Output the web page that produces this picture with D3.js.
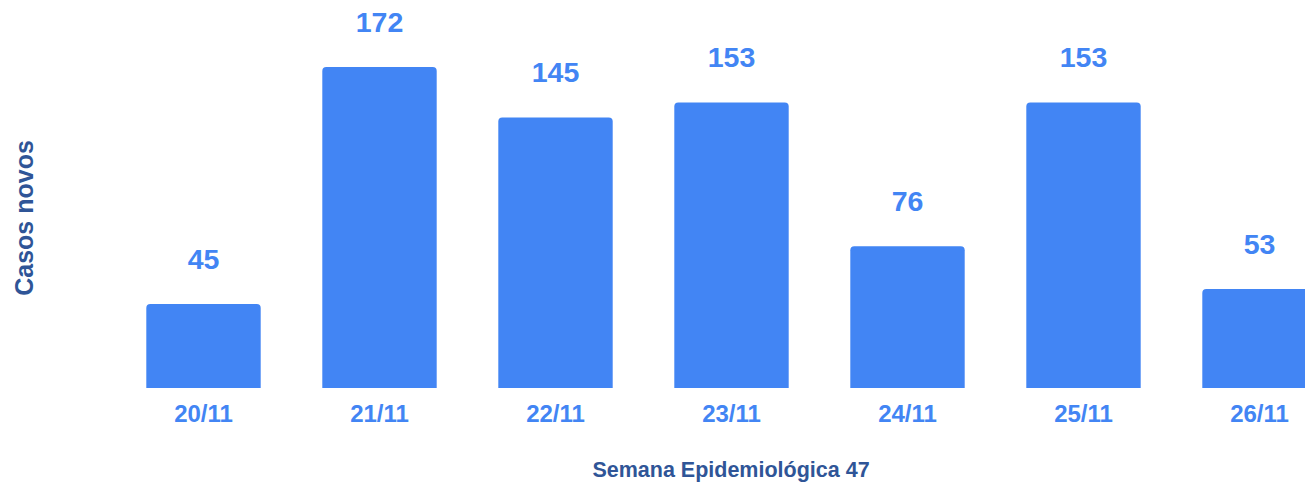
<!DOCTYPE html>
<html lang="pt">
<head>
    <meta charset="UTF-8">
    <script src="https://cdn.jsdelivr.net/npm/d3@7"></script>
    <title>Casos novos</title>
    <style>
        body { margin: 0; background: #fff; }
        text { font-family: "Liberation Sans", Arial, sans-serif; font-weight: bold; }
    </style>
</head>
<body>
</body>
<script>

    let dias = ["20/11", "21/11", "22/11", "23/11", "24/11", "25/11", "26/11"],
        casos = [45, 172, 145, 153, 76, 153, 53];

    let width = 1305,
        height = 482,
        base = 388,
        topo = 67,
        azul = "#4285f4",
        escuro = "#2f5597";

    let x = d3.scaleBand()
        .domain(dias)
        .range([115.5, 1347.5])
        .paddingInner(0.35)
        .paddingOuter(0.175);

    let y = d3.scaleLinear()
        .domain([0, 172])
        .range([base, topo]);

    let svg = d3.select("body")
        .append("svg")
        .attr("width", width)
        .attr("height", height);

    let data = dias.map((d, i) => ({dia: d, valor: casos[i]}));

    // barras com cantos superiores arredondados
    function barra(d) {
        let x0 = x(d.dia), x1 = x0 + x.bandwidth(), y0 = y(d.valor), r = 4;
        return `M${x0},${base}V${y0 + r}Q${x0},${y0} ${x0 + r},${y0}H${x1 - r}Q${x1},${y0} ${x1},${y0 + r}V${base}Z`;
    }

    svg.selectAll("path.bar")
        .data(data)
        .enter()
        .append("path")
        .attr("class", "bar")
        .attr("d", barra)
        .attr("fill", azul);

    svg.selectAll("text.valor")
        .data(data)
        .enter()
        .append("text")
        .attr("class", "valor")
        .attr("x", d => x(d.dia) + x.bandwidth() / 2)
        .attr("y", d => y(d.valor) - 35)
        .attr("text-anchor", "middle")
        .attr("font-size", 28.5)
        .attr("fill", azul)
        .text(d => d.valor);

    let eixo = svg.append("g")
        .attr("transform", `translate(0,${base})`)
        .call(d3.axisBottom(x).tickSize(0).tickPadding(0));

    eixo.select(".domain").remove();
    eixo.selectAll("text")
        .attr("dy", null)
        .attr("y", 34)
        .attr("font-size", 24)
        .attr("font-family", "Liberation Sans, Arial, sans-serif")
        .attr("fill", azul);

    svg.append("text")
        .attr("x", 731)
        .attr("y", 477)
        .attr("text-anchor", "middle")
        .attr("font-size", 21.5)
        .attr("fill", escuro)
        .text("Semana Epidemiológica 47");

    svg.append("text")
        .attr("transform", "translate(33,218) rotate(-90)")
        .attr("text-anchor", "middle")
        .attr("font-size", 25)
        .attr("fill", escuro)
        .text("Casos novos");

</script>
</html>
